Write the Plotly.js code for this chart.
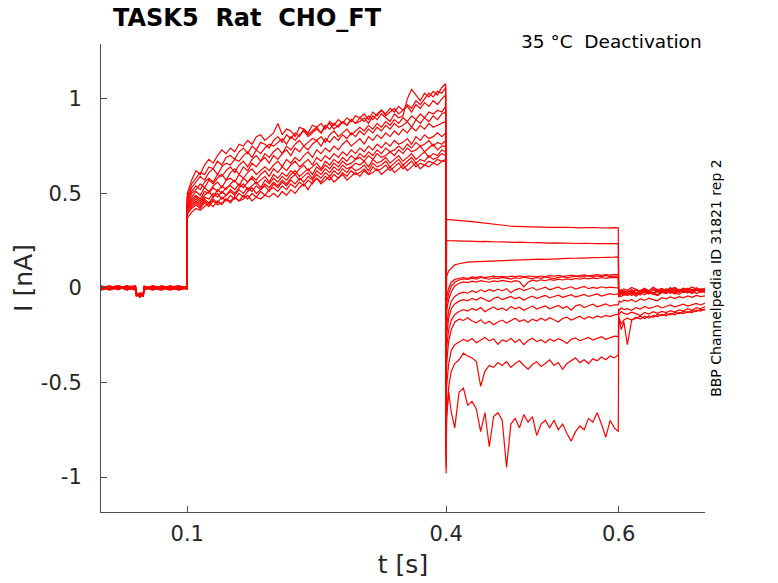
<!DOCTYPE html>
<html>
<head>
<meta charset="utf-8">
<script src="https://cdn.plot.ly/plotly-3.0.1.min.js"></script>
<style>
  html, body { margin: 0; padding: 0; background: #fff; }
  #grafica { width: 778px; height: 583px; }
</style>
</head>
<body>
<div id="grafica"></div>
<script>
// Corrientes TASK5 (rata, CHO_FT) a 35 °C, protocolo de desactivación
// 13 barridos, tiempos en s y corrientes en nA

// tiempos de cada tramo del protocolo
const tBase = [0, 0.01, 0.02, 0.03, 0.04, 0.041, 0.045, 0.049, 0.05, 0.06, 0.07, 0.08, 0.09, 0.0995];
const tAct = [0.1, 0.105, 0.11, 0.115, 0.12, 0.125, 0.13, 0.135, 0.14, 0.145,
  0.15, 0.155, 0.16, 0.165, 0.17, 0.175, 0.18, 0.185, 0.19, 0.195,
  0.2, 0.205, 0.21, 0.215, 0.22, 0.225, 0.23, 0.235, 0.24, 0.245,
  0.25, 0.255, 0.26, 0.265, 0.27, 0.275, 0.28, 0.285, 0.29, 0.295,
  0.3, 0.305, 0.31, 0.315, 0.32, 0.325, 0.33, 0.335, 0.34, 0.345,
  0.35, 0.355, 0.36, 0.365, 0.37, 0.375, 0.38, 0.385, 0.39, 0.395, 0.3995];
const tTail = [0.4, 0.4005, 0.403, 0.406,
  0.41, 0.415, 0.42, 0.425, 0.43, 0.435, 0.44, 0.445, 0.45, 0.455,
  0.46, 0.465, 0.47, 0.475, 0.48, 0.485, 0.49, 0.495, 0.5, 0.505,
  0.51, 0.515, 0.52, 0.525, 0.53, 0.535, 0.54, 0.545, 0.55, 0.555,
  0.56, 0.565, 0.57, 0.575, 0.58, 0.585, 0.59, 0.595, 0.5995];
const tRet = [0.6, 0.6005, 0.603, 0.606,
  0.61, 0.615, 0.62, 0.625, 0.63, 0.635, 0.64, 0.645, 0.65, 0.655,
  0.66, 0.665, 0.67, 0.675, 0.68, 0.685, 0.69, 0.695, 0.7];

// tramo de mantenimiento (0 - 0.1 s)
const base = [
  [0.004, -0.008, 0.010, -0.004, 0.006, -0.030, -0.042, -0.028, 0.002, -0.010, 0.008, -0.006, 0.004, -0.002],
  [-0.006, 0.008, -0.010, 0.012, -0.002, -0.036, -0.030, -0.040, -0.008, 0.006, -0.004, 0.010, -0.008, 0.003],
  [0.010, -0.004, 0.006, -0.012, 0.008, -0.026, -0.046, -0.034, 0.006, -0.002, -0.012, 0.004, 0.012, -0.006],
  [-0.002, 0.012, -0.006, 0.004, -0.010, -0.040, -0.034, -0.024, -0.004, 0.010, 0.002, -0.010, -0.002, 0.008],
  [0.006, -0.012, 0.002, 0.010, -0.006, -0.032, -0.048, -0.036, 0.004, -0.008, 0.012, 0.000, -0.010, 0.002],
  [-0.010, 0.004, 0.012, -0.008, 0.002, -0.028, -0.038, -0.044, -0.010, 0.004, -0.008, 0.008, 0.006, -0.004],
  [0.002, 0.010, -0.008, 0.006, 0.012, -0.038, -0.026, -0.032, 0.008, -0.012, 0.006, -0.004, 0.010, 0.004],
  [-0.008, -0.002, 0.008, -0.010, 0.004, -0.034, -0.044, -0.030, -0.002, 0.008, -0.010, 0.012, -0.006, -0.002],
  [0.008, -0.006, -0.002, 0.012, -0.008, -0.042, -0.032, -0.038, 0.010, -0.004, 0.004, -0.008, 0.002, 0.006],
  [-0.004, 0.006, 0.004, -0.006, 0.010, -0.024, -0.040, -0.042, -0.006, 0.012, -0.002, 0.006, -0.012, 0.000],
  [0.012, -0.010, 0.006, 0.002, -0.004, -0.036, -0.028, -0.046, 0.000, -0.006, 0.010, -0.002, 0.008, -0.008],
  [-0.012, 0.002, -0.004, 0.008, 0.000, -0.030, -0.050, -0.026, 0.004, 0.002, -0.006, 0.010, -0.004, 0.006],
  [0.000, -0.004, 0.012, -0.002, -0.012, -0.044, -0.036, -0.040, -0.012, 0.010, 0.004, -0.012, 0.006, -0.006]
];

// pulso de activación (0.1 - 0.4 s)
const act = [
  [0.48, 0.55, 0.58, 0.61, 0.60, 0.64, 0.63, 0.67, 0.65, 0.69,
   0.70, 0.68, 0.72, 0.74, 0.71, 0.75, 0.73, 0.77, 0.76, 0.74,
   0.78, 0.80, 0.77, 0.81, 0.79, 0.82, 0.80, 0.84, 0.81, 0.83,
   0.85, 0.82, 0.86, 0.84, 0.87, 0.85, 0.88, 0.86, 0.89, 0.87,
   0.88, 0.90, 0.87, 0.91, 0.89, 0.92, 0.90, 0.88, 0.92, 0.90,
   0.91, 1.00, 1.05, 1.02, 0.99, 1.03, 1.01, 1.04, 1.02, 1.06, 1.08],
  [0.50, 0.57, 0.62, 0.60, 0.65, 0.68, 0.66, 0.70, 0.73, 0.71,
   0.74, 0.72, 0.76, 0.75, 0.78, 0.76, 0.80, 0.81, 0.78, 0.80,
   0.82, 0.87, 0.81, 0.84, 0.83, 0.80, 0.85, 0.84, 0.82, 0.86,
   0.85, 0.87, 0.84, 0.88, 0.86, 0.89, 0.87, 0.90, 0.88, 0.91,
   0.90, 0.92, 0.89, 0.93, 0.91, 0.94, 0.92, 0.95, 0.93, 0.96,
   0.94, 0.97, 0.95, 0.99, 0.97, 1.00, 1.03, 1.01, 1.04, 1.03, 1.06],
  [0.47, 0.53, 0.56, 0.59, 0.57, 0.61, 0.63, 0.60, 0.64, 0.66,
   0.65, 0.68, 0.67, 0.70, 0.72, 0.69, 0.73, 0.71, 0.74, 0.76,
   0.75, 0.77, 0.79, 0.76, 0.80, 0.78, 0.81, 0.83, 0.80, 0.82,
   0.84, 0.82, 0.85, 0.87, 0.84, 0.86, 0.88, 0.86, 0.89, 0.87,
   0.90, 0.88, 0.91, 0.89, 0.92, 0.94, 0.91, 0.93, 0.95, 0.92,
   0.94, 0.96, 0.93, 0.97, 0.95, 0.98, 0.96, 0.99, 0.97, 1.00, 1.02],
  [0.46, 0.51, 0.54, 0.52, 0.56, 0.58, 0.56, 0.60, 0.59, 0.62,
   0.64, 0.61, 0.65, 0.67, 0.64, 0.68, 0.70, 0.67, 0.71, 0.69,
   0.72, 0.74, 0.71, 0.75, 0.73, 0.76, 0.78, 0.75, 0.77, 0.79,
   0.78, 0.80, 0.77, 0.81, 0.83, 0.80, 0.82, 0.84, 0.81, 0.83,
   0.85, 0.83, 0.86, 0.84, 0.87, 0.85, 0.88, 0.86, 0.89, 0.87,
   0.90, 0.88, 0.91, 0.89, 0.92, 0.90, 0.93, 0.92, 0.94, 0.93, 0.96],
  [0.45, 0.50, 0.52, 0.55, 0.53, 0.57, 0.55, 0.58, 0.60, 0.57,
   0.61, 0.63, 0.60, 0.64, 0.62, 0.66, 0.64, 0.67, 0.69, 0.66,
   0.70, 0.68, 0.71, 0.73, 0.70, 0.74, 0.72, 0.75, 0.73, 0.76,
   0.78, 0.75, 0.79, 0.77, 0.80, 0.78, 0.81, 0.79, 0.82, 0.80,
   0.83, 0.81, 0.84, 0.82, 0.85, 0.83, 0.86, 0.84, 0.87, 0.85,
   0.86, 0.88, 0.85, 0.89, 0.87, 0.90, 0.88, 0.91, 0.89, 0.92, 0.93],
  [0.44, 0.48, 0.51, 0.49, 0.53, 0.51, 0.54, 0.56, 0.53, 0.57,
   0.58, 0.56, 0.60, 0.58, 0.61, 0.63, 0.60, 0.62, 0.64, 0.62,
   0.65, 0.67, 0.64, 0.68, 0.66, 0.69, 0.67, 0.70, 0.72, 0.69,
   0.73, 0.71, 0.74, 0.72, 0.75, 0.73, 0.76, 0.78, 0.75, 0.77,
   0.79, 0.76, 0.80, 0.78, 0.81, 0.79, 0.82, 0.80, 0.83, 0.81,
   0.84, 0.82, 0.85, 0.83, 0.86, 0.84, 0.87, 0.85, 0.86, 0.87, 0.88],
  [0.43, 0.47, 0.49, 0.47, 0.51, 0.50, 0.53, 0.51, 0.54, 0.52,
   0.55, 0.57, 0.54, 0.58, 0.56, 0.59, 0.57, 0.60, 0.62, 0.59,
   0.63, 0.61, 0.64, 0.62, 0.65, 0.67, 0.64, 0.66, 0.68, 0.65,
   0.69, 0.67, 0.70, 0.68, 0.71, 0.69, 0.72, 0.70, 0.73, 0.71,
   0.74, 0.72, 0.75, 0.73, 0.76, 0.74, 0.77, 0.75, 0.78, 0.76,
   0.77, 0.79, 0.76, 0.80, 0.78, 0.81, 0.79, 0.80, 0.82, 0.80, 0.82],
  [0.42, 0.46, 0.48, 0.46, 0.49, 0.51, 0.48, 0.52, 0.50, 0.53,
   0.54, 0.52, 0.55, 0.53, 0.56, 0.58, 0.55, 0.57, 0.59, 0.56,
   0.60, 0.58, 0.61, 0.59, 0.62, 0.60, 0.63, 0.65, 0.62, 0.64,
   0.66, 0.63, 0.67, 0.65, 0.68, 0.66, 0.69, 0.67, 0.70, 0.68,
   0.71, 0.69, 0.72, 0.70, 0.73, 0.71, 0.74, 0.72, 0.73, 0.75,
   0.73, 0.76, 0.74, 0.77, 0.75, 0.76, 0.78, 0.75, 0.77, 0.76, 0.78],
  [0.42, 0.45, 0.47, 0.45, 0.48, 0.47, 0.50, 0.48, 0.51, 0.49,
   0.52, 0.50, 0.53, 0.55, 0.52, 0.54, 0.56, 0.53, 0.57, 0.55,
   0.58, 0.56, 0.59, 0.57, 0.60, 0.62, 0.59, 0.61, 0.63, 0.60,
   0.64, 0.62, 0.65, 0.63, 0.66, 0.64, 0.67, 0.65, 0.66, 0.68,
   0.69, 0.67, 0.70, 0.68, 0.71, 0.69, 0.70, 0.72, 0.70, 0.73,
   0.71, 0.74, 0.72, 0.73, 0.75, 0.72, 0.74, 0.76, 0.73, 0.75, 0.75],
  [0.41, 0.44, 0.46, 0.44, 0.47, 0.45, 0.48, 0.50, 0.47, 0.49,
   0.51, 0.49, 0.52, 0.50, 0.53, 0.51, 0.54, 0.52, 0.55, 0.53,
   0.56, 0.54, 0.57, 0.55, 0.58, 0.60, 0.57, 0.59, 0.61, 0.58,
   0.62, 0.60, 0.63, 0.61, 0.64, 0.62, 0.65, 0.63, 0.64, 0.66,
   0.65, 0.67, 0.64, 0.68, 0.66, 0.67, 0.69, 0.66, 0.68, 0.70,
   0.67, 0.69, 0.71, 0.68, 0.70, 0.72, 0.69, 0.71, 0.70, 0.73, 0.72],
  [0.40, 0.43, 0.45, 0.43, 0.46, 0.44, 0.47, 0.45, 0.48, 0.46,
   0.49, 0.47, 0.50, 0.48, 0.51, 0.53, 0.50, 0.52, 0.54, 0.51,
   0.55, 0.53, 0.56, 0.54, 0.57, 0.55, 0.58, 0.56, 0.59, 0.57,
   0.60, 0.58, 0.61, 0.59, 0.62, 0.60, 0.63, 0.61, 0.64, 0.62,
   0.63, 0.65, 0.62, 0.66, 0.64, 0.65, 0.67, 0.64, 0.66, 0.68,
   0.65, 0.67, 0.69, 0.66, 0.68, 0.67, 0.70, 0.68, 0.69, 0.71, 0.70],
  [0.39, 0.42, 0.44, 0.42, 0.45, 0.43, 0.46, 0.44, 0.45, 0.47,
   0.46, 0.48, 0.46, 0.49, 0.47, 0.50, 0.48, 0.51, 0.49, 0.52,
   0.53, 0.51, 0.54, 0.52, 0.55, 0.53, 0.56, 0.54, 0.57, 0.55,
   0.58, 0.56, 0.59, 0.57, 0.60, 0.58, 0.61, 0.59, 0.62, 0.60,
   0.61, 0.63, 0.60, 0.64, 0.62, 0.63, 0.65, 0.62, 0.64, 0.66,
   0.63, 0.65, 0.67, 0.64, 0.66, 0.65, 0.67, 0.66, 0.68, 0.67, 0.68],
  [0.37, 0.40, 0.42, 0.41, 0.43, 0.45, 0.43, 0.46, 0.44, 0.47,
   0.45, 0.48, 0.46, 0.47, 0.49, 0.46, 0.48, 0.47, 0.49, 0.48,
   0.50, 0.48, 0.51, 0.49, 0.52, 0.50, 0.53, 0.55, 0.52, 0.56,
   0.58, 0.55, 0.57, 0.59, 0.56, 0.58, 0.60, 0.57, 0.59, 0.61,
   0.59, 0.62, 0.60, 0.61, 0.63, 0.60, 0.62, 0.64, 0.61, 0.63,
   0.65, 0.62, 0.64, 0.66, 0.63, 0.65, 0.64, 0.66, 0.65, 0.67, 0.67]
];

// corrientes de cola (0.4 - 0.6 s), primer valor = transitorio capacitivo
const tail = [
  [-0.30, 0.362, 0.361, 0.360,
   0.360, 0.358, 0.356, 0.354, 0.351, 0.348, 0.345, 0.342, 0.339, 0.336,
   0.333, 0.331, 0.329, 0.327, 0.326, 0.325, 0.324, 0.323, 0.324, 0.322,
   0.321, 0.322, 0.320, 0.321, 0.319, 0.320, 0.321, 0.319, 0.320, 0.318,
   0.319, 0.320, 0.318, 0.319, 0.317, 0.319, 0.318, 0.319, 0.318],
  [-0.45, 0.252, 0.250, 0.249,
   0.248, 0.249, 0.247, 0.248, 0.246, 0.247, 0.245, 0.246, 0.244, 0.245,
   0.243, 0.244, 0.242, 0.243, 0.241, 0.242, 0.240, 0.241, 0.239, 0.240,
   0.238, 0.239, 0.237, 0.238, 0.237, 0.236, 0.237, 0.235, 0.236, 0.235,
   0.236, 0.234, 0.235, 0.234, 0.235, 0.233, 0.234, 0.235, 0.234],
  [-0.55, 0.06, 0.09, 0.105,
   0.122, 0.128, 0.133, 0.136, 0.138, 0.139, 0.140, 0.141, 0.142, 0.143,
   0.143, 0.142, 0.144, 0.146, 0.145, 0.147, 0.148, 0.150, 0.149, 0.151,
   0.152, 0.151, 0.153, 0.154, 0.153, 0.155, 0.156, 0.155, 0.157, 0.158,
   0.157, 0.159, 0.160, 0.159, 0.161, 0.162, 0.161, 0.163, 0.164],
  [-0.65, -0.05, 0.00, 0.03,
   0.045, 0.052, 0.055, 0.050, 0.058, 0.056, 0.060, 0.055, 0.059, 0.062,
   0.058, 0.061, 0.057, 0.062, 0.060, 0.064, 0.059, 0.063, 0.061, 0.058,
   0.063, 0.060, 0.065, 0.062, 0.066, 0.061, 0.064, 0.068, 0.063, 0.066,
   0.069, 0.064, 0.067, 0.070, 0.066, 0.071, 0.068, 0.072, 0.070],
  [-0.70, -0.08, -0.03, 0.01,
   0.030, 0.042, 0.048, 0.045, 0.052, 0.047, 0.055, 0.050, 0.046, 0.053,
   0.049, 0.056, 0.051, 0.047, 0.054, 0.050, 0.057, 0.052, 0.048, 0.055,
   0.051, 0.058, 0.053, 0.049, 0.056, 0.060, 0.054, 0.058, 0.062, 0.057,
   0.061, 0.065, 0.059, 0.063, 0.060, 0.066, 0.061, 0.064, 0.063],
  [-0.72, -0.12, -0.06, -0.02,
   0.010, 0.025, 0.032, 0.028, 0.036, 0.031, 0.038, 0.034, 0.030, 0.037,
   0.033, 0.040, 0.035, 0.031, 0.038, 0.034, 0.006, 0.030, 0.041, 0.036,
   0.043, 0.038, 0.045, 0.040, 0.046, 0.042, 0.048, 0.044, 0.050, 0.046,
   0.052, 0.048, 0.053, 0.049, 0.055, 0.051, 0.056, 0.054, 0.055],
  [-0.78, -0.20, -0.12, -0.07,
   -0.045, -0.030, -0.022, -0.028, -0.015, -0.024, -0.010, -0.020, -0.008, -0.018,
   -0.006, -0.016, -0.004, -0.025, -0.010, -0.002, -0.014, -0.006, 0.002, -0.012,
   -0.004, 0.004, -0.010, -0.002, 0.005, -0.008, 0.000, 0.006, -0.006, 0.002,
   0.008, -0.004, 0.003, -0.002, 0.006, 0.000, 0.004, 0.002, 0.000],
  [-0.82, -0.25, -0.16, -0.11,
   -0.085, -0.070, -0.062, -0.068, -0.055, -0.064, -0.050, -0.060, -0.072, -0.056,
   -0.048, -0.062, -0.052, -0.045, -0.058, -0.049, -0.065, -0.052, -0.044, -0.056,
   -0.047, -0.040, -0.053, -0.045, -0.038, -0.050, -0.042, -0.036, -0.048, -0.040,
   -0.034, -0.045, -0.038, -0.032, -0.043, -0.035, -0.030, -0.036, -0.032],
  [-0.85, -0.32, -0.22, -0.17,
   -0.140, -0.125, -0.115, -0.122, -0.108, -0.118, -0.104, -0.126, -0.112, -0.100,
   -0.116, -0.106, -0.120, -0.098, -0.110, -0.102, -0.118, -0.105, -0.096, -0.112,
   -0.103, -0.095, -0.110, -0.100, -0.092, -0.108, -0.098, -0.118, -0.095, -0.088,
   -0.104, -0.094, -0.086, -0.100, -0.091, -0.084, -0.096, -0.089, -0.090],
  [-0.88, -0.40, -0.28, -0.22,
   -0.180, -0.165, -0.172, -0.158, -0.175, -0.185, -0.168, -0.190, -0.176, -0.195,
   -0.180, -0.170, -0.186, -0.174, -0.160, -0.178, -0.168, -0.182, -0.165, -0.175,
   -0.160, -0.172, -0.158, -0.168, -0.180, -0.162, -0.155, -0.170, -0.158, -0.150,
   -0.165, -0.152, -0.160, -0.148, -0.156, -0.145, -0.152, -0.142, -0.140],
  [-0.92, -0.52, -0.40, -0.33,
   -0.300, -0.285, -0.272, -0.282, -0.268, -0.290, -0.276, -0.262, -0.280, -0.270,
   -0.298, -0.275, -0.284, -0.266, -0.288, -0.272, -0.300, -0.278, -0.266, -0.284,
   -0.274, -0.290, -0.270, -0.282, -0.268, -0.278, -0.294, -0.272, -0.264, -0.280,
   -0.270, -0.262, -0.276, -0.266, -0.258, -0.272, -0.262, -0.255, -0.258],
  [-0.95, -0.70, -0.52, -0.44,
   -0.400, -0.380, -0.345, -0.360, -0.370, -0.390, -0.520, -0.440, -0.410, -0.420,
   -0.395, -0.410, -0.390, -0.420, -0.400, -0.385, -0.410, -0.430, -0.405, -0.390,
   -0.415, -0.400, -0.380, -0.410, -0.395, -0.430, -0.400, -0.385, -0.370, -0.395,
   -0.380, -0.400, -0.375, -0.385, -0.365, -0.380, -0.360, -0.370, -0.355],
  [-0.98, -0.68, -0.55, -0.66,
   -0.74, -0.55, -0.53, -0.62, -0.60, -0.64, -0.76, -0.66, -0.84, -0.68,
   -0.66, -0.70, -0.95, -0.72, -0.69, -0.74, -0.67, -0.71, -0.68, -0.78,
   -0.72, -0.70, -0.74, -0.70, -0.75, -0.72, -0.77, -0.81, -0.76, -0.73,
   -0.75, -0.69, -0.71, -0.66, -0.72, -0.79, -0.70, -0.74, -0.76]
];

// vuelta al potencial de mantenimiento (0.6 - 0.7 s)
const ret = [
  [-0.02, -0.01, -0.015, -0.005,
   -0.012, 0.002, -0.008, -0.018, -0.004, -0.014, 0.004, -0.010, -0.002, -0.016,
   -0.006, 0.003, -0.012, -0.001, -0.009, 0.005, -0.007, -0.013, 0.000],
  [-0.03, -0.02, -0.025, -0.015,
   -0.022, -0.008, -0.028, -0.014, -0.002, -0.020, -0.010, -0.024, -0.006, -0.016,
   0.002, -0.018, -0.008, -0.022, -0.004, -0.014, 0.001, -0.011, -0.006],
  [-0.035, -0.03, -0.02, -0.028,
   -0.018, -0.030, -0.010, -0.024, -0.014, -0.032, -0.006, -0.020, -0.012, -0.026,
   -0.004, -0.018, -0.010, -0.022, -0.002, -0.016, -0.008, -0.020, -0.012],
  [-0.04, -0.035, -0.03, -0.02,
   -0.032, -0.020, -0.036, -0.012, -0.026, -0.018, -0.034, -0.008, -0.022, -0.014,
   -0.030, -0.010, -0.024, -0.006, -0.020, -0.028, -0.012, -0.018, -0.010],
  [-0.04, -0.045, -0.03, -0.038,
   -0.028, -0.040, -0.022, -0.034, -0.016, -0.030, -0.024, -0.038, -0.014, -0.026,
   -0.020, -0.032, -0.012, -0.024, -0.018, -0.028, -0.010, -0.022, -0.016],
  [-0.05, -0.04, -0.045, -0.035,
   -0.040, -0.030, -0.044, -0.026, -0.036, -0.020, -0.032, -0.040, -0.024, -0.030,
   -0.016, -0.028, -0.034, -0.018, -0.026, -0.014, -0.030, -0.020, -0.024],
  [-0.02, -0.03, -0.01, -0.025,
   -0.015, -0.028, -0.006, -0.020, -0.012, -0.030, -0.004, -0.018, -0.024, -0.008,
   -0.016, -0.002, -0.020, -0.010, -0.026, -0.006, -0.014, -0.004, -0.012],
  [-0.03, -0.04, -0.02, -0.03,
   -0.034, -0.016, -0.026, -0.038, -0.010, -0.022, -0.030, -0.014, -0.024, -0.004,
   -0.020, -0.028, -0.008, -0.018, -0.012, -0.026, -0.006, -0.016, -0.010],
  [-0.08, -0.07, -0.075, -0.065,
   -0.070, -0.062, -0.074, -0.058, -0.066, -0.054, -0.062, -0.068, -0.052, -0.058,
   -0.048, -0.056, -0.046, -0.052, -0.042, -0.050, -0.040, -0.046, -0.042],
  [-0.11, -0.12, -0.105, -0.115,
   -0.110, -0.118, -0.104, -0.112, -0.098, -0.108, -0.102, -0.094, -0.106, -0.098,
   -0.090, -0.100, -0.094, -0.086, -0.096, -0.088, -0.082, -0.090, -0.080],
  [-0.13, -0.14, -0.125, -0.135,
   -0.140, -0.128, -0.136, -0.146, -0.130, -0.138, -0.126, -0.134, -0.124, -0.130,
   -0.120, -0.128, -0.116, -0.122, -0.110, -0.118, -0.104, -0.110, -0.098],
  [-0.15, -0.16, -0.19, -0.17,
   -0.160, -0.170, -0.155, -0.165, -0.150, -0.160, -0.145, -0.152, -0.140, -0.148,
   -0.135, -0.142, -0.130, -0.136, -0.125, -0.130, -0.118, -0.122, -0.110],
  [-0.16, -0.17, -0.22, -0.18,
   -0.300, -0.170, -0.160, -0.150, -0.162, -0.148, -0.155, -0.140, -0.147, -0.136,
   -0.142, -0.130, -0.136, -0.124, -0.130, -0.120, -0.124, -0.114, -0.118]
];


// un barrido = los cuatro tramos seguidos (se recorta el tiempo al nº de valores)
let barrido = function (k) {
  let x = [], y = [];
  [[tBase, base[k]], [tAct, act[k]], [tTail, tail[k]], [tRet, ret[k]]].forEach(function (par) {
    let n = Math.min(par[0].length, par[1].length);
    x = x.concat(par[0].slice(0, n));
    y = y.concat(par[1].slice(0, n));
  });
  return {
    x: x,
    y: y,
    type: 'scatter',
    mode: 'lines',
    line: { color: '#ff0000', width: 1.2 },
    hoverinfo: 'skip',
    showlegend: false
  };
}

let datos = [];
for (let k = 0; k < act.length; k++) datos.push(barrido(k));


let fuente = 'DejaVu Sans, Verdana, sans-serif';

let layout = {
  width: 778,
  height: 583,
  margin: { l: 101, r: 73, t: 44, b: 71 },
  paper_bgcolor: '#ffffff',
  plot_bgcolor: '#ffffff',
  font: { family: fuente, color: '#262626' },
  showlegend: false,
  xaxis: {
    range: [0, 0.7],
    tickvals: [0.1, 0.4, 0.6],
    ticktext: ['0.1', '0.4', '0.6'],
    ticks: 'inside',
    ticklen: 6,
    tickwidth: 1,
    tickcolor: '#4d4d4d',
    showline: true,
    linecolor: '#4d4d4d',
    linewidth: 1,
    showgrid: false,
    zeroline: false,
    tickfont: { family: fuente, size: 21, color: '#262626' },
    ticklabelstandoff: 3,
    title: { text: 't [s]', font: { family: fuente, size: 25, color: '#262626' }, standoff: 10 }
  },
  yaxis: {
    range: [-1.185, 1.29],
    tickvals: [-1, -0.5, 0, 0.5, 1],
    ticktext: ['-1', '-0.5', '0', '0.5', '1'],
    ticks: 'inside',
    ticklen: 6,
    tickwidth: 1,
    tickcolor: '#4d4d4d',
    showline: true,
    linecolor: '#4d4d4d',
    linewidth: 1,
    showgrid: false,
    zeroline: false,
    tickfont: { family: fuente, size: 21, color: '#262626' },
    ticklabelstandoff: 14,
    title: { text: 'I [nA]', font: { family: fuente, size: 25, color: '#262626' }, standoff: 1 }
  },
  annotations: [
    {
      text: '<b>TASK5\u00a0\u00a0Rat\u00a0\u00a0CHO_FT</b>',
      xref: 'paper', yref: 'paper', x: 0.016, y: 1.056,
      xanchor: 'left', yanchor: 'middle', showarrow: false,
      font: { family: fuente, size: 24, color: '#000000' }
    },
    {
      text: '35 °C\u00a0\u00a0Deactivation',
      xref: 'paper', yref: 'paper', x: 0.999, y: 1.006,
      xanchor: 'right', yanchor: 'middle', showarrow: false,
      font: { family: fuente, size: 18.5, color: '#000000' }
    },
    {
      text: 'BBP Channelpedia ID 31821 rep 2',
      xref: 'paper', yref: 'paper', x: 1.018, y: 0.5,
      xanchor: 'center', yanchor: 'middle', showarrow: false, textangle: -90,
      font: { family: fuente, size: 14, color: '#000000' }
    }
  ]
};

let config = { staticPlot: true, displayModeBar: false };

Plotly.newPlot('grafica', datos, layout, config);
</script>
</body>
</html>
